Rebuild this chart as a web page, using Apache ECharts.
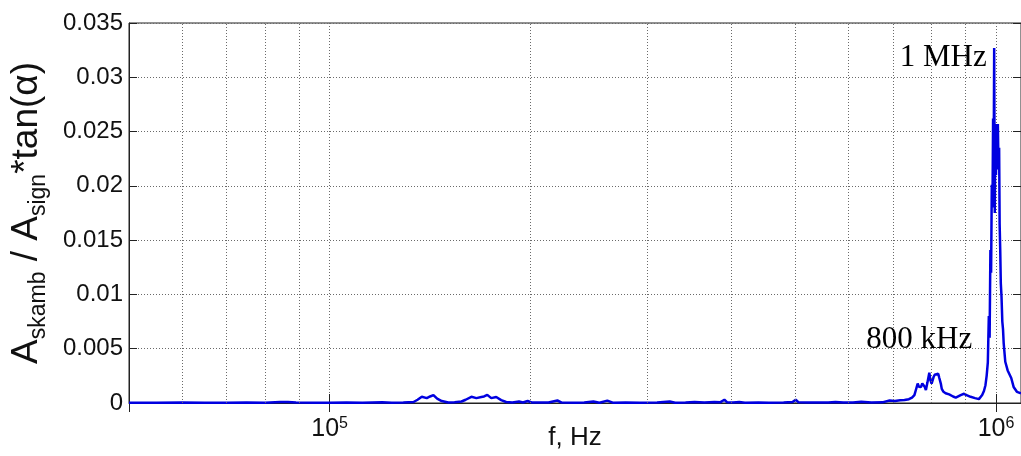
<!DOCTYPE html>
<html>
<head>
<meta charset="utf-8">
<script src="https://cdn.jsdelivr.net/npm/echarts@6/dist/echarts.min.js"></script>
<style>
html,body{margin:0;padding:0;background:#fff;}
#c{width:1021px;height:456px;}
</style>
</head>
<body>
<div id="c"></div>
<script>
// ---- data ----
const freqHz = [
50000,55000,60000,65000,70000,75000,80000,84250,86600,89020,95000,100000,106000,112000,119900,124000,129000,
133660,135500,137520,139900,141500,143150,145000,147280,150700,154000,157720,160000,163220,166040,168910,170500,
172420,174800,177830,180900,184030,188000,192410,195000,198230,201000,207470,213000,219680,223000,233890,241000,
248800,254000,261020,266000,278000,292220,310000,323870,330000,342000,352900,365000,378010,386000,391180,395000,
403000,411800,420000,440000,456340,480000,495000,500490,505000,523300,545000,560000,574120,590000,610000,627590,
650000,675000,692290,705000,718000,728780,740000,748000,754180,758000,762760,766000,771430,775000,778600,781500,
784750,789000,794070,797000,800340,805840,809000,812210,818910,822000,826240,829000,833920,840000,850380,862000,
870000,874930,884890,895240,905000,915730,930000,942470,948000,953190,959000,964030,968000,971980,975330,977990,
980660,983040,985400,987760,989800,991830,993530,995580,997610,999660,1001710,1003780,1006190,1008600,1010670,
1012420,1014510,1016590,1019030,1021850,1024310,1026730,1032380,1040910,1048080,1053840,1062550,1074610,1090000
];
const ratioValues = [
0.00003,0.00003,0.00004,0.00003,0.00003,0.00004,0.00003,0.00009,0.0001,0.00004,0.00003,0.00003,0.00004,0.00003,0.00007,0.00003,0.00004,
0.00009,0.0003,0.00057,0.00045,0.0006,0.00073,0.0004,0.00018,0.00005,0.00006,0.00014,0.0003,0.00057,0.00045,0.00055,0.0006,
0.00075,0.00045,0.00055,0.00027,0.00009,0.00004,0.00014,0.00005,0.00018,0.00005,0.00004,0.00005,0.00023,0.00004,0.00003,0.00004,
0.00014,0.00003,0.00022,0.00003,0.00004,0.00003,0.00004,0.00014,0.00003,0.00005,0.00009,0.00004,0.0001,0.00008,0.0003,0.00006,
0.00004,0.00009,0.00003,0.00004,0.00003,0.00004,0.00009,0.0003,0.00008,0.00004,0.00005,0.00004,0.00009,0.00004,0.00005,0.00012,
0.00005,0.00006,0.00023,0.00018,0.00025,0.00027,0.00035,0.0005,0.00073,0.0012,0.00179,0.0015,0.00148,0.0018,0.00188,0.0015,
0.0012,0.0019,0.00279,0.0021,0.00179,0.00239,0.0026,0.00266,0.0027,0.0023,0.00179,0.0013,0.00103,0.0009,0.00079,0.0006,
0.0005,0.0005,0.00073,0.00085,0.0007,0.00057,0.00045,0.00036,0.0005,0.00073,0.0011,0.00164,0.0025,0.00375,0.008,0.006,
0.0141,0.012,0.0201,0.018,0.0262,0.022,0.0327,0.0175,0.0257,0.021,0.0257,0.022,0.0257,0.0215,0.0235,
0.0165,0.0141,0.011,0.0098,0.0075,0.0068,0.0055,0.0038,0.003,0.0031,0.0023,0.00148,0.00103,0.0009
];
const minorGridFreqs = [60000,70000,80000,90000,200000,300000,400000,500000,600000,700000,800000,900000];
const annotations = [
  {text: '1 MHz', f: 993530, v: 0.0327, dx: -51, dy: 10},
  {text: '800 kHz', f: 794070, v: 0.00279, dx: -10, dy: -33}
];
const xMin = 50000, xMax = 1090000;
const yMin = 0, yMax = 0.035, yStep = 0.005;

const seriesData = freqHz.map((f, i) => [f, ratioValues[i]]);
const gridLineStyle = {color: '#6a6a6a', type: [1, 2], width: 1};
const fontSans = '"Liberation Sans", Arial, sans-serif';

const chart = echarts.init(document.getElementById('c'), null, {renderer: 'canvas'});
const isPow10 = v => Math.abs(Math.log10(v) - Math.round(Math.log10(v))) < 1e-6;

chart.setOption({
  animation: false,
  backgroundColor: '#fff',
  grid: {left: 125, right: -3, top: 23, bottom: 48, show: true, borderColor: '#222', borderWidth: 1, containLabel: false},
  xAxis: [{
    type: 'log', logBase: 10, min: xMin, max: xMax,
    name: 'f, Hz', nameLocation: 'middle', nameGap: 22, nameMoveOverlap: false,
    nameTextStyle: {fontFamily: fontSans, fontSize: 26, color: '#111'},
    axisLine: {show: true, lineStyle: {color: '#222', width: 1}},
    axisTick: {show: true, inside: true, length: 9, lineStyle: {color: '#222'}},
    axisLabel: {
      margin: 13, showMinLabel: false, showMaxLabel: false,
      formatter: v => isPow10(v) ? '{b|10}{s|' + Math.round(Math.log10(v)) + '}' : '',
      rich: {
        b: {fontFamily: fontSans, fontSize: 25, color: '#111', lineHeight: 26},
        s: {fontFamily: fontSans, fontSize: 16, color: '#111', verticalAlign: 'top', lineHeight: 8}
      }
    },
    splitLine: {show: true, lineStyle: gridLineStyle}
  }, {
    type: 'log', logBase: 10, min: xMin, max: xMax, position: 'top',
    axisLine: {show: false}, axisLabel: {show: false}, splitLine: {show: false},
    axisTick: {show: true, inside: true, length: 9, lineStyle: {color: '#222'}}
  }],
  yAxis: [{
    type: 'value', min: yMin, max: yMax, interval: yStep,
    name: '{m|A}{s|skamb}{m| / A}{s|sign}{m|*tan(α)}',
    nameLocation: 'middle', nameRotate: 90, nameGap: 79, nameMoveOverlap: false,
    nameTextStyle: {
      rich: {
        m: {fontFamily: fontSans, fontSize: 37, color: '#111', lineHeight: 42, verticalAlign: 'top'},
        s: {fontFamily: fontSans, fontSize: 23, color: '#111', lineHeight: 24, verticalAlign: 'bottom'}
      }
    },
    axisLine: {show: true, lineStyle: {color: '#222', width: 1}},
    axisTick: {show: true, inside: true, length: 8, lineStyle: {color: '#222'}},
    axisLabel: {margin: 6, fontFamily: fontSans, fontSize: 24, color: '#111'},
    splitLine: {show: true, lineStyle: gridLineStyle}
  }, {
    type: 'value', min: yMin, max: yMax, interval: yStep, position: 'right',
    axisLine: {show: false}, axisLabel: {show: false}, splitLine: {show: false},
    axisTick: {show: true, inside: true, length: 8, lineStyle: {color: '#222'}}
  }],
  series: [{
    type: 'line', data: [], z: 1, silent: true,
    markLine: {
      silent: true, symbol: 'none', animation: false,
      label: {show: false},
      lineStyle: gridLineStyle,
      data: minorGridFreqs.map(f => ({xAxis: f}))
    }
  }, {
    type: 'line', data: seriesData, z: 3,
    showSymbol: false, symbol: 'none',
    lineStyle: {color: '#0000e0', width: 2.5},
    markPoint: {
      symbol: 'circle', symbolSize: 0, animation: false,
      data: annotations.map(a => ({
        coord: [a.f, a.v],
        label: {
          show: true, position: 'inside', offset: [a.dx, a.dy], formatter: a.text,
          fontFamily: '"Liberation Serif", "Times New Roman", serif', fontSize: 31, color: '#000'
        }
      }))
    }
  }]
});
</script>
</body>
</html>
